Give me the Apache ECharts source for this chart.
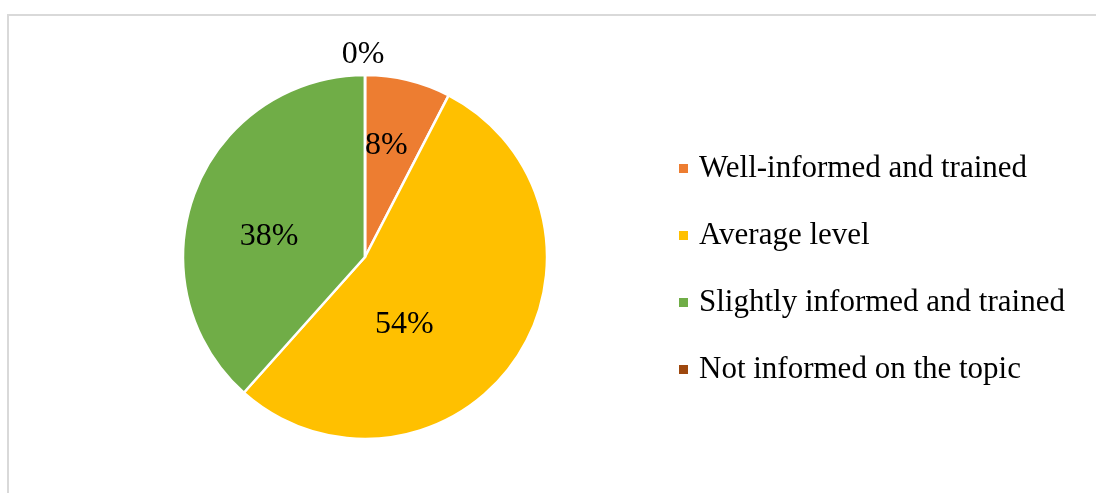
<!DOCTYPE html>
<html>
<head>
<meta charset="utf-8">
<style>
  html, body { margin: 0; padding: 0; background: #fff; }
  #chart { width: 1096px; height: 493px; }
</style>
<script src="https://cdn.jsdelivr.net/npm/echarts@6/dist/echarts.min.js"></script>
</head>
<body>
<div id="chart"></div>
<script>
const categories = ['Well-informed and trained', 'Average level', 'Slightly informed and trained', 'Not informed on the topic'];
const shares = [7.6, 54.0, 38.4, 0];
const colors = ['#ed7d31', '#ffc000', '#70ad47', '#9e480e'];

// nudges from ECharts' default inside position toward where the reference puts each label
const labelShift = [[-1, -20], [-38, 14], [-8, 13], [-2, -108]];

const chart = echarts.init(document.getElementById('chart'));

chart.setOption({
  animation: false,
  color: colors,
  graphic: [{
    type: 'rect',
    shape: { x: 8, y: 15, width: 1100, height: 500 },
    style: { fill: 'none', stroke: '#d9d9d9', lineWidth: 2 },
    silent: true,
  }],
  legend: {
    orient: 'vertical',
    left: 672,
    top: 148,
    icon: 'rect',
    itemWidth: 11,
    itemHeight: 11,
    itemGap: 36,
    textStyle: { fontFamily: 'Liberation Serif', fontSize: 31, color: '#000', lineHeight: 31, padding: [0, 0, 0, 5] },
    data: categories,
  },
  series: [{
    type: 'pie',
    center: [365, 257],
    radius: 182,
    startAngle: 90,
    clockwise: true,
    percentPrecision: 0,
    itemStyle: { borderColor: '#fff', borderWidth: 2.5 },
    label: {
      show: true,
      position: 'inside',
      formatter: '{d}%',
      fontFamily: 'Liberation Serif',
      fontSize: 32,
      color: '#000',
    },
    labelLine: { show: false },
    labelLayout: (p) => ({ dx: labelShift[p.dataIndex][0], dy: labelShift[p.dataIndex][1] }),
    emphasis: { disabled: true },
    data: categories.map((name, i) => ({ name, value: shares[i] })),
  }],
});
</script>
</body>
</html>
